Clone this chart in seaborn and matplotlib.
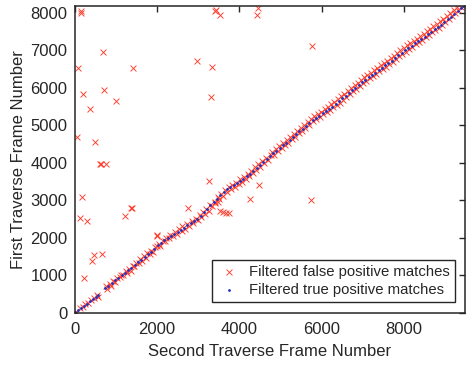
import numpy as np
import pandas as pd
import matplotlib
matplotlib.use('Agg')
import matplotlib.pyplot as plt
import seaborn as sns

# true positive matches (blue dots along the diagonal)
tp_x = [20, 90, 160, 230, 300, 370, 440, 510, 580,
        750, 820, 900, 980, 1060, 1140, 1220, 1300, 1380, 1460, 1540, 1620,
        1700, 1780, 1860, 1940, 2020, 2100, 2180, 2260, 2340, 2420, 2500, 2580,
        2660, 2740, 2820, 2900, 2980, 3060, 3140, 3220, 3300, 3380, 3460, 3540,
        3620, 3700, 3780, 3860, 3940, 4020, 4100, 4180, 4260, 4340, 4420, 4500,
        4580, 4660, 4740,
        4820, 4900, 4980, 5060, 5140, 5220, 5300, 5380, 5460, 5540, 5620, 5700,
        5780, 5860, 5940, 6020, 6100, 6180, 6260, 6340, 6420, 6500, 6580, 6660,
        6740, 6820, 6900, 6980, 7060, 7140, 7220, 7300, 7380, 7460, 7540, 7620,
        7700, 7780, 7860, 7940, 8020, 8100, 8180, 8260, 8340, 8420, 8500, 8580,
        8660, 8740, 8820, 8900, 8980, 9060, 9140, 9220, 9300, 9380, 9440]
tp_y = [15, 70, 125, 185, 240, 295, 350, 405, 460,
        660, 720, 790, 860, 930, 995, 1060, 1130, 1200, 1280, 1345, 1415,
        1480, 1555, 1620, 1700, 1800, 1860, 1930, 1990, 2050, 2110, 2160, 2200,
        2260, 2330, 2390, 2450, 2510, 2590, 2680, 2770, 2860, 2940, 3040, 3130,
        3210, 3290, 3340, 3400, 3460, 3520, 3580, 3640, 3710, 3790, 3870, 3940,
        4020, 4100, 4170,
        4250, 4320, 4400, 4470, 4540, 4610, 4700, 4770, 4840, 4910, 4990, 5070,
        5140, 5200, 5260, 5320, 5380, 5440, 5500, 5570, 5640, 5720, 5790, 5860,
        5940, 6010, 6080, 6150, 6220, 6290, 6350, 6410, 6470, 6540, 6600, 6670,
        6730, 6800, 6870, 6930, 7000, 7060, 7130, 7190, 7240, 7300, 7370, 7440,
        7500, 7560, 7620, 7690, 7750, 7830, 7900, 7980, 8060, 8140, 8180]

# false positives close to the diagonal
fp_diag_x = [0, 30, 40, 120, 200, 260, 330, 400, 470, 540, 560,
             760, 790, 850, 880, 940, 990, 1030, 1100, 1120, 1180, 1250, 1270,
             1330, 1360, 1420, 1450, 1500, 1560, 1590, 1640, 1680, 1730, 1760,
             1820, 1850, 1900, 1960, 2000, 2050, 2080, 2140, 2200, 2230, 2290,
             2320, 2380, 2440, 2480, 2540, 2600,
             2620, 2680, 2720, 2780, 2850, 2880, 2940, 2990, 3040, 3080, 3110,
             3170, 3200, 3260, 3290, 3340, 3420, 3480, 3500, 3560, 3600, 3650,
             3690, 3740, 3800, 3830, 3900, 3920, 3980, 4010, 4070, 4110, 4150,
             4210, 4240, 4290, 4330, 4380, 4410, 4460, 4500, 4550, 4600, 4640,
             4700, 4760,
             4790, 4850, 4880, 4940, 4970, 5030, 5060, 5110, 5150, 5190, 5240,
             5270, 5320, 5360, 5400, 5440, 5490, 5520, 5580, 5600, 5660, 5690,
             5740, 5780, 5820, 5870, 5900, 5960, 5990, 6040, 6070, 6120, 6150,
             6200, 6230, 6280, 6310, 6360, 6390, 6440, 6470, 6520, 6550, 6600,
             6630, 6680, 6710, 6760, 6800, 6840, 6870, 6920, 6950, 7000, 7030,
             7080, 7110, 7160, 7190, 7240, 7280, 7320, 7350, 7400, 7440, 7480,
             7510, 7560, 7590, 7640, 7670, 7720, 7760, 7800, 7830, 7880, 7910,
             7960, 8000, 8040, 8070, 8120, 8150, 8200, 8240, 8280, 8310, 8360,
             8390, 8440, 8480, 8520, 8550, 8600, 8640, 8680, 8710, 8760, 8800,
             8840, 8870, 8920, 8950, 9000, 9040, 9080, 9110, 9160, 9200, 9240,
             9280, 9320, 9380, 9440]
fp_diag_y = [0, 20, 10, 110, 150, 230, 250, 330, 380, 460, 420,
             700, 640, 760, 720, 840, 820, 930, 950, 1010, 1000, 1110, 1050,
             1160, 1120, 1250, 1230, 1330, 1310, 1420, 1390, 1500, 1470, 1580,
             1560, 1650, 1610, 1740, 1780, 1840, 1780, 1920, 1900, 1990, 1980,
             2070, 2040, 2150, 2100, 2220, 2180,
             2300, 2220, 2370, 2300, 2440, 2380, 2510, 2460, 2600, 2540, 2680,
             2640, 2760, 2720, 2880, 2850, 2920, 3090, 3020, 3170, 3100, 3260,
             3220, 3340, 3290, 3400, 3360, 3470, 3420, 3560, 3500, 3620, 3560,
             3700, 3640, 3780, 3720, 3880, 3800, 3960, 3900, 4050, 3990, 4140,
             4080, 4220,
             4290, 4200, 4380, 4320, 4450, 4400, 4530, 4470, 4610, 4540, 4690,
             4630, 4770, 4700, 4850, 4790, 4930, 4860, 5010, 4940, 5100, 5020,
             5180, 5110, 5250, 5160, 5300, 5230, 5360, 5290, 5430, 5350, 5490,
             5420, 5560, 5480, 5630, 5540, 5700, 5610, 5780, 5690, 5850, 5760,
             5920, 5830, 6000, 5910, 6070, 5980, 6140, 6050, 6210, 6120, 6280,
             6190, 6340, 6260, 6400, 6320, 6470, 6380, 6530, 6440, 6600, 6500,
             6670, 6570, 6730, 6640, 6800, 6700, 6860, 6770, 6930, 6840, 7000,
             6900, 7070, 6970, 7140, 7040, 7200, 7100, 7260, 7160, 7310, 7220,
             7380, 7290, 7450, 7360, 7510, 7420, 7570, 7480, 7640, 7540, 7700,
             7610, 7780, 7690, 7850, 7760, 7930, 7840, 8000, 7920, 8080, 8000,
             8150, 8080, 8170, 8175]

# false positives far from the diagonal
fp_out_x = [145, 160, 690, 89, 1430, 209, 716, 369, 1012, 48, 506, 610, 640, 771,
            185, 120, 306, 1366, 1395, 1229, 426, 482, 667, 241, 1993, 2010, 2755,
            3262, 3398, 3478, 3519, 3600, 3680, 3760, 4266, 4483, 5729,
            3398, 3440, 3519, 4443, 4419, 5753, 2981, 3342, 3318]
fp_out_y = [8060, 8010, 6970, 6535, 6535, 5844, 5932, 5426, 5639, 4682, 4557, 3963,
            3963, 3963, 3094, 2519, 2457, 2785, 2790, 2580, 1365, 1534, 1569, 923,
            2048, 2060, 2785, 3511, 2962, 2962, 2713, 2690, 2669, 2669, 3024, 3405,
            3006, 8044, 8070, 7948, 8130, 7948, 7129, 6730, 6570, 5754]

fp = pd.DataFrame({'x': fp_diag_x + fp_out_x, 'y': fp_diag_y + fp_out_y})
tp = pd.DataFrame({'x': tp_x, 'y': tp_y})

sns.set_style('white')
plt.rcParams['font.family'] = ['Liberation Sans', 'DejaVu Sans']

fig = plt.figure(figsize=(4.66, 3.69), dpi=100)
ax = fig.add_axes([0.160, 0.153, 0.838, 0.831])

sns.scatterplot(data=fp, x='x', y='y', marker='x', color='#ff3a28', s=18,
                linewidth=0.65, ax=ax, label='Filtered false positive matches')
sns.scatterplot(data=tp, x='x', y='y', marker='.', color='#1f2fbf', s=16,
                linewidth=0, ax=ax, label='Filtered true positive matches')

ax.set_xlim(0, 9480)
ax.set_ylim(0, 8190)
ax.set_xticks([0, 2000, 4000, 6000, 8000])
ax.set_yticks(range(0, 8001, 1000))
ax.set_xlabel('Second Traverse Frame Number', fontsize=12, color='#262626', labelpad=5)
ax.set_ylabel('First Traverse Frame Number', fontsize=12, color='#262626', labelpad=3)
ax.tick_params(axis='x', pad=7)
ax.tick_params(axis='y', pad=5)
ax.tick_params(direction='in', length=4, width=1, top=True, right=True,
               labelsize=12, colors='#262626')
for sp in ax.spines.values():
    sp.set_visible(True)
    sp.set_color('#262626')
    sp.set_linewidth(1.1)

leg = ax.legend(loc='lower right', fontsize=10.7, frameon=True, fancybox=False,
                edgecolor='#262626', framealpha=1, borderaxespad=0.7,
                handletextpad=0.5, handlelength=1.6, borderpad=0.35,
                labelspacing=0.25)
leg.get_frame().set_linewidth(1.0)

plt.savefig('out.png', dpi=100)
